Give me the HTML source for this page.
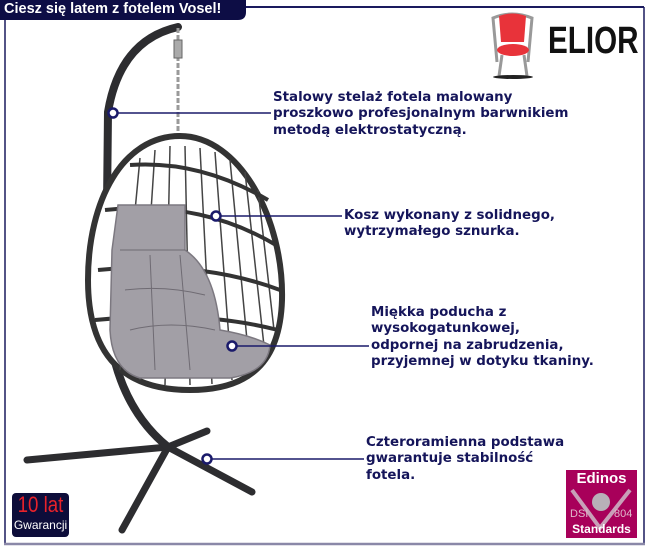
<!DOCTYPE html>
<html><head><meta charset="utf-8"><style>
html,body{margin:0;padding:0;background:#fff;}
body{width:650px;height:560px;position:relative;overflow:hidden;font-family:"DejaVu Sans","Liberation Sans",sans-serif;}
.t{position:absolute;color:#15155a;font-weight:bold;font-size:13.4px;line-height:16.3px;white-space:nowrap;}
</style></head><body>
<svg width="650" height="560" style="position:absolute;left:0;top:0">
 <line x1="240" y1="7" x2="644" y2="7" stroke="#1a1a5e" stroke-width="2"/>
 <line x1="644" y1="7" x2="644" y2="543" stroke="#1a1a5e" stroke-width="1.5"/>
 <line x1="5" y1="15" x2="5" y2="543" stroke="#1a1a5e" stroke-width="1.5"/>
 <line x1="4" y1="544" x2="645" y2="544" stroke="#8a88a8" stroke-width="2.5"/>
 <path d="M0 0 H246 V12 Q246 20 238 20 H0 Z" fill="#0d0d45"/>
 <g stroke="#2d2d30" stroke-width="7" stroke-linecap="round" fill="none">
  <line x1="168" y1="447" x2="27" y2="460"/>
  <line x1="168" y1="447" x2="207" y2="431"/>
  <line x1="168" y1="447" x2="122" y2="530"/>
  <line x1="168" y1="447" x2="252" y2="492"/>
  <path d="M178 27 Q120 40 108 112 L106 300 Q110 400 168 447" stroke-width="8"/>
 </g>
 <line x1="178" y1="28" x2="178" y2="138" stroke="#9a9a9a" stroke-width="3" stroke-dasharray="5 2"/>
 <rect x="174" y="40" width="8" height="18" fill="#aaa" stroke="#666"/>
 <path d="M180 136 C240 136 284 220 282 300 C280 362 250 390 190 390 C118 390 88 350 88 280 C88 200 123 136 180 136 Z" fill="#fff" stroke="#333" stroke-width="6"/>
 <g stroke="#444" stroke-width="1.5">
  <line x1="140" y1="158" x2="120" y2="370"/><line x1="155" y1="150" x2="140" y2="380"/>
  <line x1="170" y1="146" x2="165" y2="385"/><line x1="185" y1="146" x2="190" y2="385"/>
  <line x1="200" y1="148" x2="212" y2="384"/><line x1="215" y1="152" x2="232" y2="380"/>
  <line x1="230" y1="160" x2="250" y2="372"/><line x1="245" y1="172" x2="265" y2="355"/>
  <line x1="258" y1="190" x2="274" y2="330"/>
 </g>
 <g stroke="#333" stroke-width="4" fill="none">
  <path d="M130 165 Q200 160 268 200"/>
  <path d="M105 210 Q200 200 276 245"/>
  <path d="M98 270 Q200 260 280 290"/>
  <path d="M95 320 Q200 310 278 330"/>
 </g>
 <path d="M118 205 H185 V250 Q215 270 220 330 Q250 335 270 345 Q268 372 230 378 H140 Q112 370 110 330 L112 250 Z" fill="#a29fa6" stroke="#7c7880" stroke-width="1.5"/>
 <g stroke="#6f6b73" stroke-width="1" fill="none">
  <path d="M120 250 H185"/><path d="M125 290 Q165 285 205 295"/><path d="M130 330 Q170 320 215 330"/>
  <path d="M150 255 L155 370"/><path d="M180 255 L190 370"/>
 </g>
 <g stroke="#1a1a6a" stroke-width="1.5" fill="#fff">
  <line x1="113" y1="113" x2="271" y2="113"/>
  <line x1="216" y1="216" x2="342" y2="216"/>
  <line x1="232" y1="346" x2="369" y2="346"/>
  <line x1="207" y1="459" x2="364" y2="459"/>
  <circle cx="113" cy="113" r="4.5" stroke-width="2.5"/>
  <circle cx="216" cy="216" r="4.5" stroke-width="2.5"/>
  <circle cx="232" cy="346" r="4.5" stroke-width="2.5"/>
  <circle cx="207" cy="459" r="4.5" stroke-width="2.5"/>
 </g>
 <path d="M497 62 L493 18 Q512 10 532 18 L528 62" fill="none" stroke="#999" stroke-width="3"/>
 <path d="M499 16 Q512 11 526 16 L524 42 H501 Z" fill="#e8333a"/>
 <ellipse cx="513" cy="50" rx="16" ry="6" fill="#e8333a"/>
 <line x1="502" y1="55" x2="499" y2="76" stroke="#999" stroke-width="3"/>
 <line x1="524" y1="55" x2="527" y2="76" stroke="#999" stroke-width="3"/>
 <ellipse cx="513" cy="77" rx="20" ry="2" fill="#222"/>
 <rect x="12" y="493" width="57" height="44" rx="4" fill="#0d0d3a"/>
 <rect x="566" y="470" width="71" height="68" fill="#a8005a"/>
 <path d="M572 490 L600 528 L630 490" fill="none" stroke="#c8a0b8" stroke-width="4"/>
 <circle cx="601" cy="502" r="9" fill="#b8b0b8"/>
</svg>
<div style="position:absolute;left:4px;top:1px;color:#fff;font:bold 14.5px 'Liberation Sans',sans-serif;">Ciesz się latem z fotelem Vosel!</div>
<div style="position:absolute;left:548px;top:20px;font:bold 38px 'Liberation Sans',sans-serif;transform:scaleX(0.78);transform-origin:left;color:#111;">ELIOR</div>
<div style="position:absolute;left:12px;top:492px;width:57px;text-align:center;color:#e8222a;font:22px 'Liberation Sans',sans-serif;transform:scaleX(0.85)">10 lat</div>
<div style="position:absolute;left:12px;top:518px;width:57px;text-align:center;color:#fff;font:12px 'Liberation Sans',sans-serif;">Gwarancji</div>
<div style="position:absolute;left:566px;top:470px;width:71px;text-align:center;color:#fff;font:bold 15px 'Liberation Sans',sans-serif;">Edinos</div>
<div style="position:absolute;left:570px;top:508px;color:#e0b8cc;font:11px 'Liberation Sans',sans-serif;">DSI</div>
<div style="position:absolute;left:614px;top:508px;color:#e0b8cc;font:11px 'Liberation Sans',sans-serif;">804</div>
<div style="position:absolute;left:566px;top:522px;width:71px;text-align:center;color:#fff;font:bold 12px 'Liberation Sans',sans-serif;">Standards</div>
<div class="t" style="left:273px;top:90px">Stalowy stelaż fotela malowany<br>proszkowo profesjonalnym barwnikiem<br>metodą elektrostatyczną.</div>
<div class="t" style="left:344px;top:208px">Kosz wykonany z solidnego,<br>wytrzymałego sznurka.</div>
<div class="t" style="left:371px;top:305px">Miękka poducha z<br>wysokogatunkowej,<br>odpornej na zabrudzenia,<br>przyjemnej w dotyku tkaniny.</div>
<div class="t" style="left:366px;top:435px">Czteroramienna podstawa<br>gwarantuje stabilność<br>fotela.</div>
</body></html>
